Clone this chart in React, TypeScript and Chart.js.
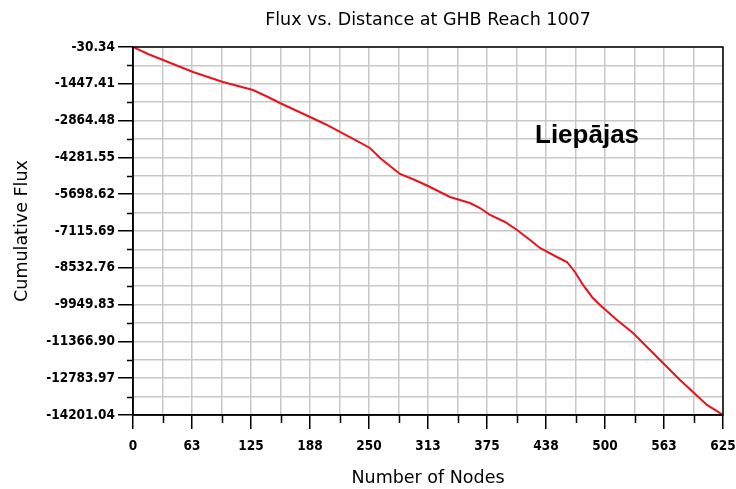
import React, { useEffect, useRef } from "react";
import { Chart, registerables } from "chart.js";

Chart.register(...registerables);

const chartTitle = "Flux vs. Distance at GHB Reach 1007";
const xAxisTitle = "Number of Nodes";
const yAxisTitle = "Cumulative Flux";
const annotationText = "Liepājas";
const seriesName = "Cumulative Flux";

const xTickLabels = ["0", "63", "125", "188", "250", "313", "375", "438", "500", "563", "625"];
const xTickValues = [0, 62.5, 125, 187.5, 250, 312.5, 375, 437.5, 500, 562.5, 625];
const yTickLabels = [
  "-30.34", "-1447.41", "-2864.48", "-4281.55", "-5698.62", "-7115.69",
  "-8532.76", "-9949.83", "-11366.90", "-12783.97", "-14201.04",
];
const yTickValues = yTickLabels.map(Number);

const nodeValues = [
  0, 15.9, 31.8, 47.7, 63.6, 79.4, 95.3, 111.2, 127.1, 143, 155.7, 171.6, 187.5,
  203.4, 219.3, 235.2, 251, 261.7, 272.2, 282.8, 298.7, 312.5, 335.8, 357, 367.6,
  378.2, 394.1, 406.8, 420.6, 431.1, 447, 459.7, 468.2, 476.7, 486.2, 494.7, 512.7,
  529.7, 547.7, 565.7, 579.5, 593.2, 608, 616.5, 625,
];
const fluxValues = [
  -30.34, -300, -531, -762, -993, -1185, -1378, -1532, -1686, -1956, -2187, -2456,
  -2726, -2995, -3303, -3611, -3919, -4304, -4612, -4920, -5152, -5383, -5806, -6037,
  -6230, -6499, -6769, -7077, -7462, -7770, -8078, -8309, -8694, -9194, -9656, -9964,
  -10542, -11042, -11697, -12351, -12851, -13313, -13814, -14006, -14201.04,
];

function midpoints(vals: number[]): number[] {
  const s = [...vals].sort((a, b) => a - b);
  const out: number[] = [];
  for (let i = 0; i < s.length - 1; i++) out.push((s[i] + s[i + 1]) / 2);
  return out;
}
function withMidpoints(vals: number[]): number[] {
  return [...vals, ...midpoints(vals)].sort((a, b) => a - b);
}
function isMajor(list: number[], v: number): boolean {
  return list.some((m) => Math.abs(m - v) < 1e-6);
}

export default function App() {
  const ref = useRef<HTMLCanvasElement | null>(null);

  useEffect(() => {
    document.body.style.margin = "0";
    const canvas = ref.current;
    if (!canvas) return;

    const decorPlugin = {
      id: "decor",
      afterDraw(chart: any) {
        const { ctx, chartArea } = chart;
        const xs = chart.scales.x;
        const ys = chart.scales.y;
        ctx.save();
        ctx.strokeStyle = "#000";
        ctx.lineWidth = 1.5;
        ctx.beginPath();
        midpoints(xTickValues).forEach((v) => {
          const px = Math.round(xs.getPixelForValue(v)) + 0.5;
          ctx.moveTo(px, chartArea.bottom);
          ctx.lineTo(px, chartArea.bottom + 8);
        });
        midpoints(yTickValues).forEach((v) => {
          const py = Math.round(ys.getPixelForValue(v)) + 0.5;
          ctx.moveTo(chartArea.left, py);
          ctx.lineTo(chartArea.left - 6, py);
        });
        ctx.stroke();
        ctx.strokeRect(chartArea.left, chartArea.top, chartArea.right - chartArea.left, chartArea.bottom - chartArea.top);
        ctx.fillStyle = "#000";
        ctx.font = "17.5px 'DejaVu Sans', sans-serif";
        ctx.textAlign = "center";
        ctx.textBaseline = "middle";
        ctx.fillText(chartTitle, (chartArea.left + chartArea.right) / 2, 20.5);
        ctx.font = "bold 26px 'Liberation Sans', Arial, sans-serif";
        ctx.textAlign = "left";
        ctx.textBaseline = "alphabetic";
        ctx.fillText(annotationText, 535, 143);
        ctx.restore();
      },
    };

    const tickFont = { family: "'DejaVu Sans Condensed', 'DejaVu Sans', sans-serif", size: 13.5, weight: "bold" };
    const titleFont = { family: "'DejaVu Sans', sans-serif", size: 17.5 };

    const chart = new Chart(canvas, {
      type: "line",
      data: {
        datasets: [
          {
            label: seriesName,
            data: nodeValues.map((x, i) => ({ x, y: fluxValues[i] })),
            borderColor: "#e8141c",
            borderWidth: 2,
            pointRadius: 0,
            tension: 0,
            fill: false,
          },
        ],
      },
      options: {
        animation: false,
        responsive: false,
        maintainAspectRatio: false,
        layout: { padding: { left: 0, right: 0, top: 47, bottom: 0 } },
        plugins: {
          legend: { display: false },
          tooltip: { enabled: false },
          title: { display: false },
        },
        scales: {
          x: {
            type: "linear",
            min: 0,
            max: 625,
            afterBuildTicks(scale: any) {
              scale.ticks = withMidpoints(xTickValues).map((v) => ({ value: v }));
            },
            afterFit(scale: any) {
              scale.height = 74;
              scale.paddingLeft = 0;
              scale.paddingRight = 13;
            },
            ticks: {
              autoSkip: false,
              maxRotation: 0,
              color: "#000",
              font: tickFont,
              padding: 9,
              callback(value: any) {
                const i = xTickValues.findIndex((v) => Math.abs(v - Number(value)) < 1e-6);
                return i >= 0 ? xTickLabels[i] : "";
              },
            },
            grid: {
              color: "#c8c8c8",
              lineWidth: 1.5,
              tickColor: (c: any) => (isMajor(xTickValues, c.tick?.value) ? "#000" : "rgba(0,0,0,0)"),
              tickWidth: 1.5,
              tickLength: 14,
            },
            border: { color: "#000", width: 1.5 },
            title: {
              display: true,
              text: xAxisTitle,
              color: "#000",
              font: titleFont,
              padding: { top: 0, bottom: 0 },
            },
          },
          y: {
            type: "linear",
            min: -14201.04,
            max: -30.34,
            afterBuildTicks(scale: any) {
              scale.ticks = withMidpoints(yTickValues).map((v) => ({ value: v }));
            },
            afterFit(scale: any) {
              scale.width = 133;
              scale.paddingTop = 0;
              scale.paddingBottom = 0;
            },
            ticks: {
              autoSkip: false,
              color: "#000",
              font: tickFont,
              padding: 3,
              callback(value: any) {
                const i = yTickValues.findIndex((v) => Math.abs(v - Number(value)) < 1e-6);
                return i >= 0 ? yTickLabels[i] : "";
              },
            },
            grid: {
              color: "#c8c8c8",
              lineWidth: 1.5,
              tickColor: (c: any) => (isMajor(yTickValues, c.tick?.value) ? "#000" : "rgba(0,0,0,0)"),
              tickWidth: 1.5,
              tickLength: 15,
            },
            border: { color: "#000", width: 1.5 },
            title: {
              display: true,
              text: yAxisTitle,
              color: "#000",
              font: titleFont,
              padding: { top: 12, bottom: 0 },
            },
          },
        },
      },
      plugins: [decorPlugin],
    });

    return () => chart.destroy();
  }, []);

  return (
    <div style={{ width: 736, height: 489, background: "#fff" }}>
      <canvas ref={ref} width={736} height={489} style={{ display: "block" }} />
    </div>
  );
}
